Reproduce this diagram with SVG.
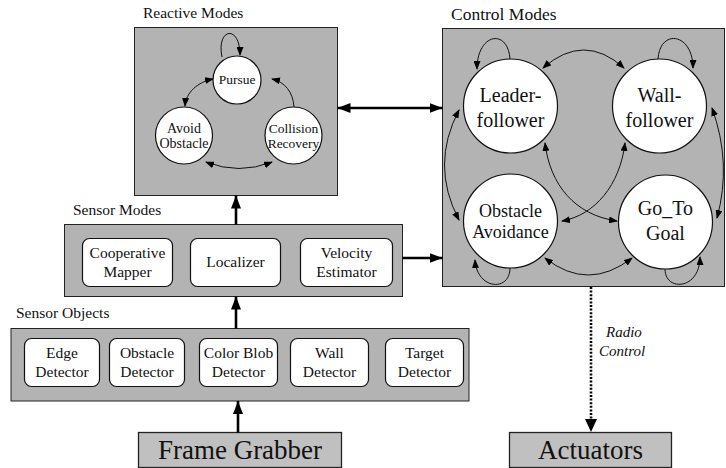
<svg xmlns="http://www.w3.org/2000/svg" width="726" height="468" viewBox="0 0 726 468">
<defs>
<style>
.grp{fill:#b3b3b3;stroke:#222;stroke-width:1}
.ext{fill:#c0c0c0;stroke:#222;stroke-width:1.3}
.node{fill:#fff;stroke:#111;stroke-width:1.2}
.circ{fill:#fff;stroke:#111;stroke-width:1.2}
.t{font-family:"Liberation Serif","Times New Roman",serif;fill:#111;text-anchor:middle}
.title{font-family:"Liberation Serif","Times New Roman",serif;fill:#111;font-size:15.5px}
.thin{fill:none;stroke:#111;stroke-width:1}
.thick{fill:none;stroke:#000;stroke-width:2.6}
</style>
<marker id="ah" markerUnits="userSpaceOnUse" markerWidth="9" markerHeight="7" refX="8" refY="3.5" orient="auto-start-reverse" viewBox="0 0 9 7">
<path d="M0,0 L9,3.5 L0,7 z" fill="#000"/>
</marker>
<marker id="AH" markerUnits="userSpaceOnUse" markerWidth="13" markerHeight="10" refX="13" refY="5" orient="auto-start-reverse" viewBox="0 0 13 10">
<path d="M0,0 L13,5 L0,10 z" fill="#000"/>
</marker>
</defs>
<rect width="726" height="468" fill="#fff"/>

<g id="reactive-modes">
<rect class="grp" x="134.5" y="27.5" width="203" height="168"/>
<text class="title" x="143" y="18">Reactive Modes</text>
</g>
<g id="pursue">
<circle class="circ" cx="237" cy="80" r="24"/>
<text class="t" x="237" y="84" font-size="13.5">Pursue</text>
</g>
<g id="avoid-obstacle">
<circle class="circ" cx="184" cy="135.5" r="28.5"/>
<text class="t" x="184" y="133" font-size="14">Avoid</text>
<text class="t" x="184" y="148" font-size="14">Obstacle</text>
</g>
<g id="collision-recovery">
<circle class="circ" cx="293.5" cy="135.5" r="28.5"/>
<text class="t" x="293.5" y="133" font-size="13.5">Collision</text>
<text class="t" x="293.5" y="148" font-size="13.5">Recovery</text>
</g>

<g id="control-modes">
<rect class="grp" x="442.5" y="28.5" width="282" height="258"/>
<text class="title" x="451" y="20" style="font-size:17.5px">Control Modes</text>
</g>
<g id="leader-follower">
<circle class="circ" cx="510.5" cy="106" r="47"/>
<text class="t" x="510.5" y="102" font-size="20">Leader-</text>
<text class="t" x="510.5" y="127" font-size="20">follower</text>
</g>
<g id="wall-follower">
<circle class="circ" cx="659.5" cy="106" r="47"/>
<text class="t" x="659.5" y="102" font-size="20">Wall-</text>
<text class="t" x="659.5" y="127" font-size="20">follower</text>
</g>
<g id="obstacle-avoidance">
<circle class="circ" cx="510.5" cy="221" r="47"/>
<text class="t" x="510.5" y="217" font-size="18">Obstacle</text>
<text class="t" x="510.5" y="238" font-size="18">Avoidance</text>
</g>
<g id="go-to-goal">
<circle class="circ" cx="665.5" cy="222" r="47"/>
<text class="t" x="665.5" y="215" font-size="20">Go_To</text>
<text class="t" x="665.5" y="240" font-size="20">Goal</text>
</g>

<g id="sensor-modes">
<rect class="grp" x="64.5" y="224.5" width="338" height="72"/>
<text class="title" x="73" y="215">Sensor Modes</text>
</g>
<g id="cooperative-mapper">
<rect class="node" x="82.5" y="238.5" width="90" height="48" rx="7"/>
<text class="t" x="127.5" y="258" font-size="15.5">Cooperative</text>
<text class="t" x="127.5" y="277" font-size="15.5">Mapper</text>
</g>
<g id="localizer">
<rect class="node" x="190.5" y="238.5" width="90" height="48" rx="7"/>
<text class="t" x="235.5" y="267" font-size="15.5">Localizer</text>
</g>
<g id="velocity-estimator">
<rect class="node" x="300.5" y="238.5" width="92" height="48" rx="7"/>
<text class="t" x="346.5" y="258" font-size="15.5">Velocity</text>
<text class="t" x="346.5" y="277" font-size="15.5">Estimator</text>
</g>

<g id="sensor-objects">
<rect class="grp" x="11" y="328.5" width="458" height="72.5"/>
<text class="title" x="16" y="318">Sensor Objects</text>
</g>
<g id="edge-detector">
<rect class="node" x="24.5" y="338.5" width="75" height="48" rx="7"/>
<text class="t" x="62" y="358" font-size="15.5">Edge</text>
<text class="t" x="62" y="377" font-size="15.5">Detector</text>
</g>
<g id="obstacle-detector">
<rect class="node" x="109.5" y="338.5" width="75" height="48" rx="7"/>
<text class="t" x="147" y="358" font-size="15.5">Obstacle</text>
<text class="t" x="147" y="377" font-size="15.5">Detector</text>
</g>
<g id="color-blob-detector">
<rect class="node" x="199.5" y="338.5" width="78" height="48" rx="7"/>
<text class="t" x="238.5" y="358" font-size="15.5">Color Blob</text>
<text class="t" x="238.5" y="377" font-size="15.5">Detector</text>
</g>
<g id="wall-detector">
<rect class="node" x="290.5" y="338.5" width="78" height="48" rx="7"/>
<text class="t" x="329.5" y="358" font-size="15.5">Wall</text>
<text class="t" x="329.5" y="377" font-size="15.5">Detector</text>
</g>
<g id="target-detector">
<rect class="node" x="385.5" y="338.5" width="78" height="48" rx="7"/>
<text class="t" x="424.5" y="358" font-size="15.5">Target</text>
<text class="t" x="424.5" y="377" font-size="15.5">Detector</text>
</g>

<g id="frame-grabber">
<rect class="ext" x="138.5" y="432.5" width="203" height="35"/>
<text class="t" x="240" y="459" font-size="27">Frame Grabber</text>
</g>
<g id="actuators">
<rect class="ext" x="509.5" y="432.5" width="162" height="35"/>
<text class="t" x="590.5" y="459" font-size="27">Actuators</text>
</g>

<g id="connectors">
<path class="thin" d="M222,57 C216,28 240,24 240,55" marker-end="url(#ah)"/>
<path class="thin" d="M185,106 C186,92 198,82 213,79" marker-start="url(#ah)" marker-end="url(#ah)"/>
<path class="thin" d="M294,107 C293,92 285,82 272,79" marker-end="url(#ah)"/>
<path class="thin" d="M206,162 Q239,175 272,162" marker-start="url(#ah)" marker-end="url(#ah)"/>
<path class="thin" d="M510,59 C508,28 477,33 477,69" marker-end="url(#ah)"/>
<path class="thin" d="M658,59 C660,28 693,33 693,68" marker-end="url(#ah)"/>
<path class="thin" d="M543,68 Q584,32 624,68" marker-start="url(#ah)" marker-end="url(#ah)"/>
<path class="thin" d="M459,110 Q430,165 459,220" marker-start="url(#ah)" marker-end="url(#ah)"/>
<path class="thin" d="M712,108 Q732,163 717,218" marker-start="url(#ah)" marker-end="url(#ah)"/>
<path class="thin" d="M545,143 C550,185 575,215 617,221" marker-start="url(#ah)" marker-end="url(#ah)"/>
<path class="thin" d="M625,143 C620,185 595,215 562,221" marker-start="url(#ah)" marker-end="url(#ah)"/>
<path class="thin" d="M510,268 C510,292 477,290 475,260" marker-end="url(#ah)"/>
<path class="thin" d="M665,269 C665,292 700,290 700,257" marker-end="url(#ah)"/>
<path class="thin" d="M545,258 Q588,292 632,258" marker-start="url(#ah)" marker-end="url(#ah)"/>
<path class="thick" d="M337.5,108 L442.5,108" marker-start="url(#AH)" marker-end="url(#AH)"/>
<path class="thick" d="M402.5,258 L442.5,258" marker-end="url(#AH)"/>
<path class="thick" d="M236,224.5 L236,195.5" marker-end="url(#AH)"/>
<path class="thick" d="M236,328.5 L236,296.5" marker-end="url(#AH)"/>
<path class="thick" d="M238,432.5 L238,401" marker-end="url(#AH)"/>
<path fill="none" stroke="#000" stroke-width="2.6" stroke-dasharray="2 1.6" d="M591,287 L591,420"/>
<path d="M585,419 L597,419 L591,432 z" fill="#000"/>
<text font-family="Liberation Serif,'Times New Roman',serif" font-style="italic" font-size="15" fill="#111" x="606" y="337">Radio</text>
<text font-family="Liberation Serif,'Times New Roman',serif" font-style="italic" font-size="15" fill="#111" x="599" y="356">Control</text>
</g>
</svg>
